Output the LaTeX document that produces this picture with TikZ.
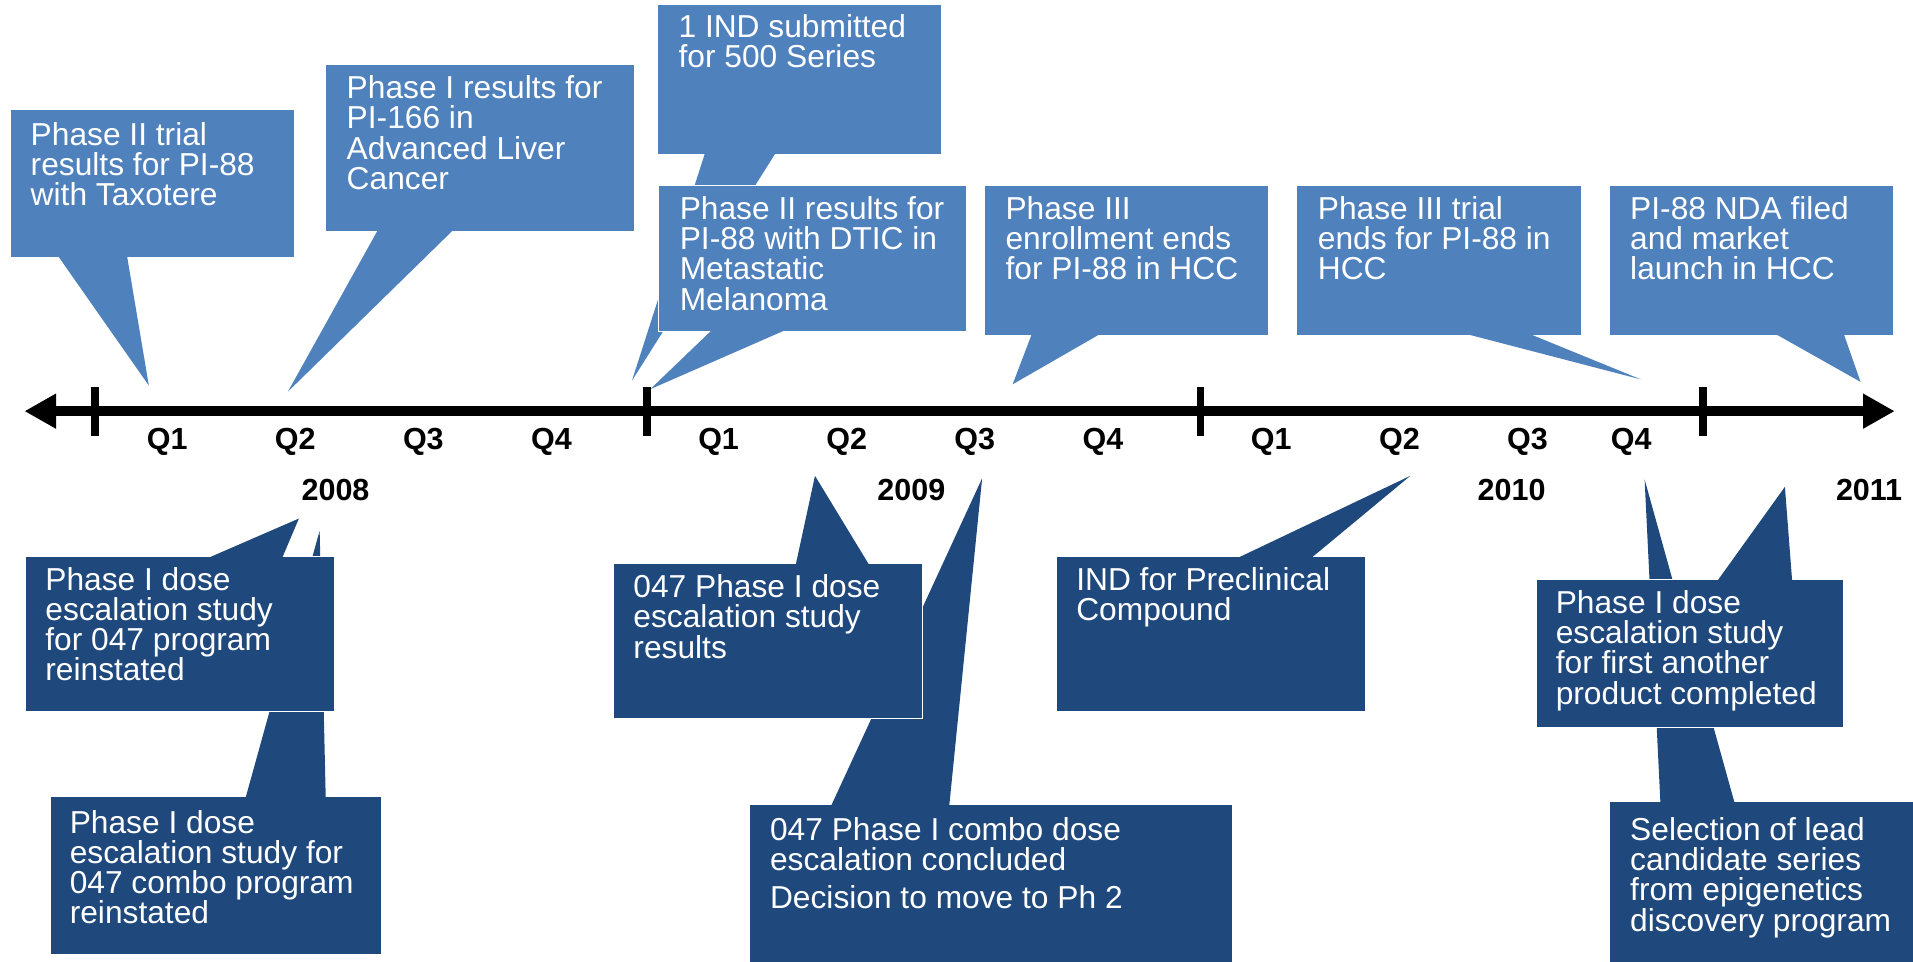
\documentclass[tikz,border=0pt]{standalone}
\usepackage{fontspec}
\setmainfont{Liberation Sans}
\usetikzlibrary{arrows.meta}
\definecolor{lb}{HTML}{4F81BD}
\definecolor{db}{HTML}{1F497D}
\newcommand{\Tx}[1]{\vtop{\lineskiplimit=-30pt\lineskip=0pt #1}}
\newcommand{\Li}[1]{\hbox{#1}}
\begin{document}
\begin{tikzpicture}[x=1pt,y=-1pt,
  lbox/.style={fill=lb, draw=white, line width=0.8pt, inner sep=0pt, outer sep=0pt, anchor=north west},
  dbox/.style={fill=db, draw=white, line width=0.8pt, inner sep=0pt, outer sep=0pt, anchor=north west},
  txt/.style={text=white, anchor=base west, inner sep=0pt, font=\fontsize{26}{24.7}\selectfont},
  ql/.style={font=\bfseries\fontsize{25}{25}\selectfont, inner sep=0pt},
  tick/.style={line width=6.5pt}
]
\useasboundingbox (0,0) rectangle (1568,788);

% ---------- top callouts ----------
\node[lbox, minimum width=232pt, minimum height=121pt] (A) at (9,90) {};
\coordinate (At) at (122,316);
\fill[lb] ([xshift=38pt,yshift=2pt]A.south west) -- (At) -- ([xshift=95pt,yshift=2pt]A.south west) -- cycle;
\node[txt] (Atx) at (25,119) {\Tx{\Li{Phase II trial}\Li{results for PI-88}\Li{with Taxotere}}};

\node[lbox, minimum width=253pt, minimum height=137pt] (B) at (267,53) {};
\coordinate (Bt) at (236,321);
\fill[lb] ([xshift=43pt,yshift=2pt]B.south west) -- (Bt) -- ([xshift=105pt,yshift=2pt]B.south west) -- cycle;
\node[txt] (Btx) at (284,81) {\Tx{\Li{Phase I results for}\Li{PI-166 in}\Li{Advanced Liver}\Li{Cancer}}};

\node[lbox, minimum width=233pt, minimum height=123pt] (C) at (539,4) {};
\coordinate (Ct) at (518,312);
\fill[lb] ([xshift=39pt,yshift=2pt]C.south west) -- (Ct) -- ([xshift=97pt,yshift=2pt]C.south west) -- cycle;
\node[txt] (Ctx) at (556,31) {\Tx{\Li{1 IND submitted}\Li{for 500 Series}}};

\node[lbox, minimum width=252pt, minimum height=120pt] (D) at (540,152) {};
\coordinate (Dt) at (533,319);
\fill[lb] ([xshift=44pt,yshift=2pt]D.south west) -- (Dt) -- ([xshift=105pt,yshift=2pt]D.south west) -- cycle;
\node[txt] (Dtx) at (557,180) {\Tx{\Li{Phase II results for}\Li{PI-88 with DTIC in}\Li{Metastatic}\Li{Melanoma}}};

\node[lbox, minimum width=233pt, minimum height=123pt] (E) at (807,152) {};
\coordinate (Et) at (830,315);
\fill[lb] ([xshift=39pt,yshift=2pt]E.south west) -- (Et) -- ([xshift=96pt,yshift=2pt]E.south west) -- cycle;
\node[txt] (Etx) at (824,180) {\Tx{\Li{Phase III}\Li{enrollment ends}\Li{for PI-88 in HCC}}};

\node[lbox, minimum width=233pt, minimum height=123pt] (F) at (1063,152) {};
\coordinate (Ft) at (1345,311);
\fill[lb] ([xshift=136pt,yshift=2pt]F.south west) -- (Ft) -- ([xshift=189pt,yshift=2pt]F.south west) -- cycle;
\node[txt] (Ftx) at (1080,180) {\Tx{\Li{Phase III trial}\Li{ends for PI-88 in}\Li{HCC}}};

\node[lbox, minimum width=233pt, minimum height=123pt] (G) at (1319,152) {};
\coordinate (Gt) at (1525,313);
\fill[lb] ([xshift=135pt,yshift=2pt]G.south west) -- (Gt) -- ([xshift=192pt,yshift=2pt]G.south west) -- cycle;
\node[txt] (Gtx) at (1336,180) {\Tx{\Li{PI-88 NDA filed}\Li{and market}\Li{launch in HCC}}};

% ---------- bottom callouts ----------
\node[dbox, minimum width=272pt, minimum height=129pt] (I) at (41,653) {};
\coordinate (It) at (262,435);
\fill[db] ([xshift=160pt,yshift=-2pt]I.north west) -- (It) -- ([xshift=226pt,yshift=-2pt]I.north west) -- cycle;
\node[txt] (Itx) at (57,683) {\Tx{\Li{Phase I dose}\Li{escalation study for}\Li{047 combo program}\Li{reinstated}}};

\node[dbox, minimum width=253pt, minimum height=127pt] (H) at (21,456) {};
\coordinate (Ht) at (245,425);
\fill[db] ([xshift=148pt,yshift=-2pt]H.north west) -- (Ht) -- ([xshift=210pt,yshift=-2pt]H.north west) -- cycle;
\node[txt] (Htx) at (37,484) {\Tx{\Li{Phase I dose}\Li{escalation study}\Li{for 047 program}\Li{reinstated}}};

\node[dbox, minimum width=396pt, minimum height=140pt] (K) at (614,659) {};
\coordinate (Kt) at (805,392);
\fill[db] ([xshift=67pt,yshift=-2pt]K.north west) -- (Kt) -- ([xshift=164pt,yshift=-2pt]K.north west) -- cycle;
\node[txt] (Ktx) at (631,689) {\Tx{\Li{047 Phase I combo dose}\Li{escalation concluded}\vskip 6pt\Li{Decision to move to Ph 2}}};

\node[dbox, minimum width=253pt, minimum height=127pt] (J) at (503,462) {};
\coordinate (Jt) at (668,390);
\fill[db] ([xshift=149pt,yshift=-2pt]J.north west) -- (Jt) -- ([xshift=210pt,yshift=-2pt]J.north west) -- cycle;
\node[txt] (Jtx) at (519,490) {\Tx{\Li{047 Phase I dose}\Li{escalation study}\Li{results}}};

\node[dbox, minimum width=253pt, minimum height=127pt] (L) at (866,456) {};
\coordinate (Lt) at (1156,390);
\fill[db] ([xshift=147pt,yshift=-2pt]L.north west) -- (Lt) -- ([xshift=208pt,yshift=-2pt]L.north west) -- cycle;
\node[txt] (Ltx) at (882,484) {\Tx{\Li{IND for Preclinical}\Li{Compound}}};

\node[dbox, minimum width=262pt, minimum height=140pt] (N) at (1319,657) {};
\coordinate (Nt) at (1348,393);
\fill[db] ([xshift=42pt,yshift=-2pt]N.north west) -- (Nt) -- ([xshift=103pt,yshift=-2pt]N.north west) -- cycle;
\node[txt] (Ntx) at (1336,689) {\Tx{\Li{Selection of lead}\Li{candidate series}\Li{from epigenetics}\Li{discovery program}}};

\node[dbox, minimum width=252pt, minimum height=121pt] (M) at (1259,475) {};
\coordinate (Mt) at (1463,399);
\fill[db] ([xshift=148pt,yshift=-2pt]M.north west) -- (Mt) -- ([xshift=210pt,yshift=-2pt]M.north west) -- cycle;
\node[txt] (Mtx) at (1275,503) {\Tx{\Li{Phase I dose}\Li{escalation study}\Li{for first another}\Li{product completed}}};

% ---------- axis ----------
\coordinate (aL) at (20,337);
\coordinate (aR) at (1553,337);
\draw[line width=8pt, {Triangle[length=26pt,width=27pt]}-{Triangle[length=26pt,width=27pt]}] (aL) -- (aR);
\foreach \x/\n in {78/t1,530/t2,984/t3,1396/t4}{
  \coordinate (\n a) at (\x,317);
  \coordinate (\n b) at (\x,357);
  \draw[tick] (\n a) -- (\n b);
}
\foreach \x/\q/\n in {137/Q1/q1,242/Q2/q2,347/Q3/q3,452/Q4/q4,589/Q1/q5,694/Q2/q6,799/Q3/q7,904/Q4/q8,1042/Q1/q9,1147/Q2/q10,1252/Q3/q11,1337/Q4/q12}{
  \node[ql] (\n) at (\x,362) {\q};
}
\node[ql] (y8) at (275,402) {2008};
\node[ql] (y9) at (747,402) {2009};
\node[ql] (y10) at (1239,402) {2010};
\node[ql] (y11) at (1532,402) {2011};
\end{tikzpicture}
\end{document}
